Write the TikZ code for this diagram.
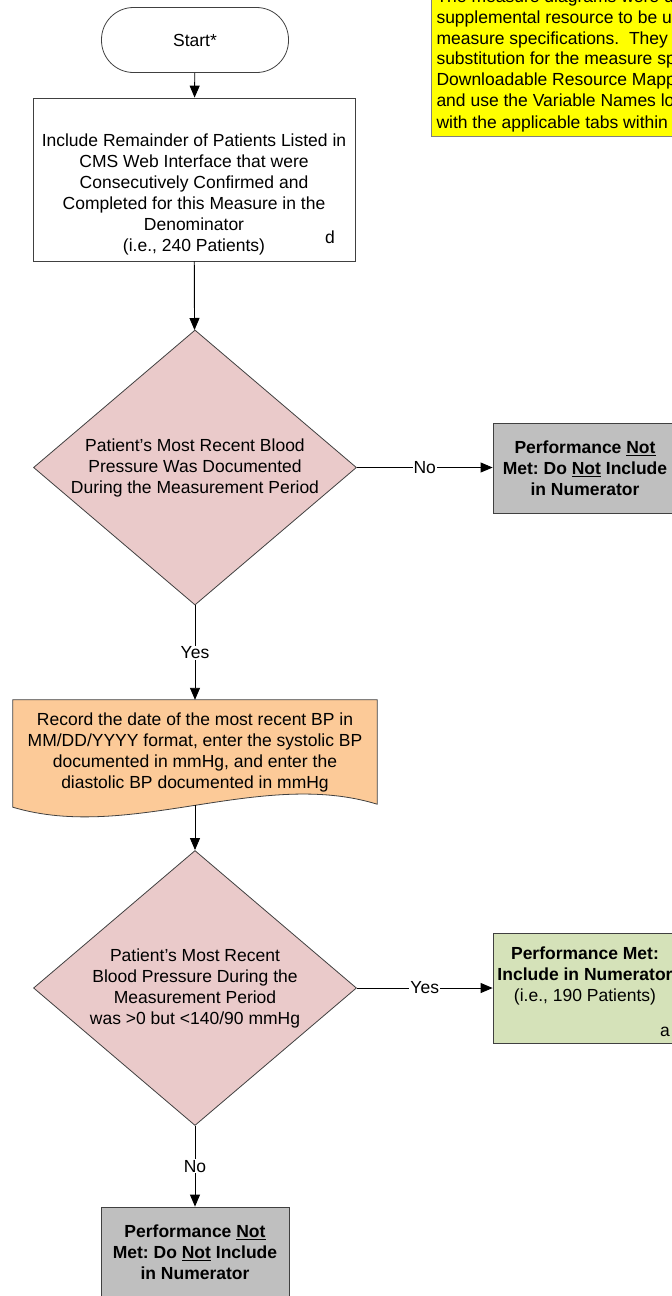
\documentclass[tikz,border=0pt]{standalone}
\usepackage{fontspec}
\setmainfont{Liberation Sans}
\usetikzlibrary{shapes}
\usetikzlibrary{arrows.meta}
\usetikzlibrary{backgrounds}

\definecolor{decpink}{HTML}{EACACA}
\definecolor{recpeach}{HTML}{FCCA98}
\definecolor{metgreen}{HTML}{D5E2B9}
\definecolor{notgray}{HTML}{BFBFBF}
\definecolor{noteyellow}{HTML}{FFFF00}

\begin{document}
\frenchspacing
\begin{tikzpicture}[x=1pt,y=-1pt,
  every node/.style={font=\fontsize{17.5}{21}\selectfont},
  outline/.style={draw=black!75, line width=0.8pt, align=center, inner sep=0pt},
  decision/.style={outline, diamond, fill=decpink, minimum width=323pt, minimum height=275pt, aspect=1.17},
  outcome/.style={outline, rectangle, minimum width=184pt, font=\bfseries\fontsize{17.5}{21}\selectfont},
  flow/.style={-{Triangle[length=12pt,width=10pt]}, line width=0.9pt},
  answer/.style={fill=white, inner sep=1pt}]
\useasboundingbox (0,0) rectangle (672,1296);
\clip (0,0) rectangle (672,1296);

% note, top right
\node[draw=black!50, line width=1pt, fill=noteyellow, anchor=south west, align=left,
  minimum width=300pt, inner xsep=5pt, inner ysep=4pt,
  font=\fontsize{17.5}{20.8}\selectfont] (note) at (431,137)
  {The measure diagrams were developed by CMS as a\\
   supplemental resource to be used in conjunction with the\\
   measure specifications.\ \ They should not be used alone or as a\\
   substitution for the measure specifications. Please refer to the\\
   Downloadable Resource Mapping tab in the Excel file\\
   and use the Variable Names located in the first column\\[1.5pt]
   with the applicable tabs within the Excel file.};

% main column
\node[outline, rectangle, rounded corners=32pt, minimum width=187pt, minimum height=65pt] (start) at (195,40) {Start*};
\node[outline, rectangle, minimum width=322pt, minimum height=163pt] (include) at (194,179.5) {};
\node[align=center, inner sep=0pt] (includetext) at (194,194.5)
  {Include Remainder of Patients Listed in\\ CMS Web Interface that were\\ Consecutively Confirmed and\\
   Completed for this Measure in the\\ Denominator\\ (i.e., 240 Patients)};
\node (incmark) at (330,237) {d};

\node[decision] (dec1) at (195,467.5)
  {Patient's Most Recent Blood\\ Pressure Was Documented\\ During the Measurement Period};
\node[outcome, fill=notgray, minimum height=90pt] (notmet1) at (585,468)
  {Performance \underline{Not}\\ Met: Do \underline{Not} Include\\ in Numerator};

\node[align=center, inner sep=0pt, minimum width=364pt, minimum height=105pt] (record) at (195,752.5)
  {Record the date of the most recent BP in\\ MM/DD/YYYY format, enter the systolic BP\\
   documented in mmHg, and enter the\\ diastolic BP documented in mmHg};
\begin{scope}[on background layer]
\filldraw[draw=black!75, line width=0.8pt, fill=recpeach]
  (record.north west) -- (record.north east) -- ([yshift=1pt]record.south east)
  .. controls ++(-117,-36) and ([xshift=117pt,yshift=-37pt]record.south west)
  .. ([yshift=-2pt]record.south west) -- cycle;
\end{scope}

\node[decision] (dec2) at (195,988)
  {Patient's Most Recent\\ Blood Pressure During the\\ Measurement Period\\ was >0 but <140/90 mmHg};
\node[outcome, fill=metgreen, minimum height=110pt] (met) at (585,988)
  {Performance Met:\\ Include in Numerator\\ \mdseries(i.e., 190 Patients)\\[6pt]};
\node (metmark) at (665,1032) {a};
\node[outcome, fill=notgray, minimum width=188pt, minimum height=90pt] (notmet2) at (195,1252)
  {Performance \underline{Not}\\ Met: Do \underline{Not} Include\\ in Numerator};

% connectors
\draw[flow] (start) -- (include);
\draw[flow] (include) -- (dec1);
\draw[flow] (dec1.east) -- node[answer] {No} (dec1.east -| notmet1.west);
\draw[flow] (dec1) -- node[answer] {Yes} (record);
\draw[flow] (record.south) -- (dec2);
\draw[flow] (dec2.east) -- node[answer] {Yes} (dec2.east -| met.west);
\draw[flow] (dec2) -- node[answer] {No} (notmet2);
\end{tikzpicture}
\end{document}
